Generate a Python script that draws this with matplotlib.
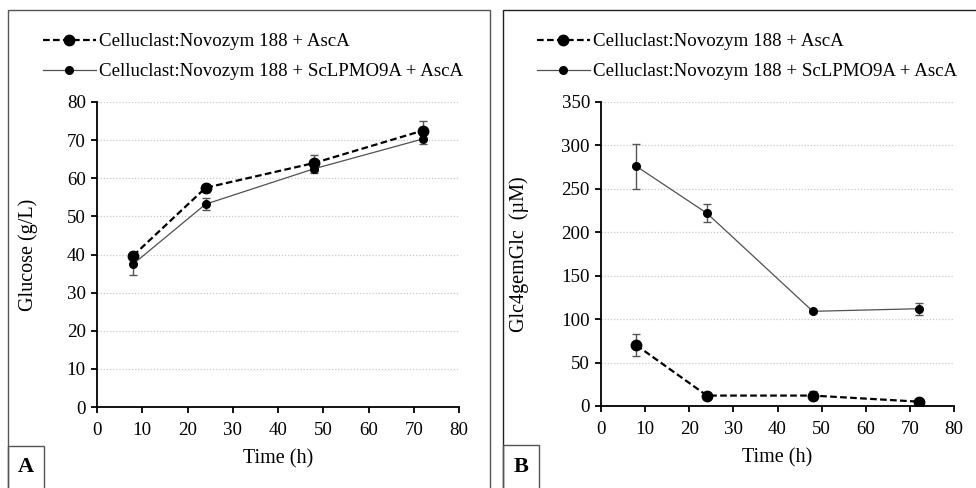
#!/usr/bin/env python3

import matplotlib
matplotlib.use("Agg")
import matplotlib.pyplot as plt
from matplotlib.patches import Rectangle

# sampling times (h)
time_h = [8, 24, 48, 72]

# panel A: glucose (g/L)
glc_asca = [39.7, 57.5, 64.0, 72.5]
glc_asca_err = [1.0, 1.0, 2.0, 2.5]
glc_lpmo = [37.5, 53.2, 62.5, 70.3]
glc_lpmo_err = [2.8, 1.5, 1.0, 1.3]

# panel B: Glc4gemGlc (uM)
gem_asca = [70, 12, 12, 5]
gem_asca_err = [12.5, 2.0, 5.0, 2.0]
gem_lpmo = [276, 222, 109, 112]
gem_lpmo_err = [26, 10, 2, 7]

label_asca = "Celluclast:Novozym 188 + AscA"
label_lpmo = "Celluclast:Novozym 188 + ScLPMO9A + AscA"

plt.rcParams['font.family'] = ['Liberation Serif', 'DejaVu Serif']
plt.rcParams['font.size'] = 13.6

W, H = 976, 488
fig = plt.figure(figsize=(W / 100, H / 100), dpi=100)


def px_box(x0, y0, x1, y1, **kw):
    # rectangle given in pixel coords from top-left
    r = Rectangle((x0 / W, 1 - y1 / H), (x1 - x0) / W, (y1 - y0) / H,
                  transform=fig.transFigure, fill=False, **kw)
    fig.patches.append(r)


def panel(rect, y_a, e_a, y_l, e_l, ymax, ystep, ylabel, ylab_x, tag, box_x, leg_x):
    l, t, r, b = rect
    ax = fig.add_axes([l / W, 1 - b / H, (r - l) / W, (b - t) / H])
    # error bars first, then the lines and markers on top
    ax.errorbar(time_h, y_a, yerr=e_a, fmt='none', ecolor='#555555',
                elinewidth=1.0, capsize=3, capthick=1.0, zorder=2)
    ax.errorbar(time_h, y_l, yerr=e_l, fmt='none', ecolor='#555555',
                elinewidth=1.0, capsize=3, capthick=1.0, zorder=2)
    ax.plot(time_h, y_a, color='black', ls=(0, (3, 1.5)), lw=1.6,
            marker='o', ms=7.5, label=label_asca, zorder=3)
    ax.plot(time_h, y_l, color='#505050', ls='-', lw=0.9,
            marker='o', ms=5.5, mfc='black', mec='black',
            label=label_lpmo, zorder=3)
    ax.set_xlim(0, 80)
    ax.set_ylim(0, ymax)
    ax.set_xticks(range(0, 81, 10))
    ax.set_yticks(range(0, ymax + 1, ystep))
    for v in range(ystep, ymax + 1, ystep):
        ax.axhline(v, color='#c8c8c8', lw=0.9, ls=(0, (1, 1.5)), zorder=0)
    for s in ('top', 'right'):
        ax.spines[s].set_visible(False)
    for s in ('left', 'bottom'):
        ax.spines[s].set_linewidth(1.3)
    ax.tick_params(direction='out', length=4, width=1.3, pad=4)
    ax.tick_params(axis='x', pad=7)
    ax.set_xlabel("Time (h)", fontsize=14.5)
    ax.xaxis.set_label_coords(0.5, -0.14)
    ax.set_ylabel(ylabel, fontsize=14.5)
    ax.yaxis.set_label_coords((ylab_x - l) / (r - l), 0.5)

    ax.legend(loc='upper left', bbox_to_anchor=(leg_x / W, 1 - 33 / H),
              bbox_transform=fig.transFigure, frameon=False,
              handlelength=2.8, handletextpad=0.15, labelspacing=0.68,
              borderaxespad=0, borderpad=0)
    fig.text((box_x + 18) / W, 1 - 467 / H, tag, fontsize=16, fontweight='bold',
             ha='center', va='center')
    return ax


px_box(8, 10, 490, 500, color='#555555', lw=1.0)
px_box(8, 446, 44, 500, color='#555555', lw=1.0)
px_box(503, 10, 990, 500, color='#222222', lw=1.0)
px_box(503, 445, 539, 500, color='#555555', lw=1.0)

panel((97, 102, 459, 407), glc_asca, glc_asca_err, glc_lpmo, glc_lpmo_err,
      80, 10, "Glucose (g/L)", 38, "A", 8, 43)
panel((601, 102, 954, 406), gem_asca, gem_asca_err, gem_lpmo, gem_lpmo_err,
      350, 50, "Glc4gemGlc  (\u00b5M)", 529, "B", 503, 537)

fig.savefig("out.png", dpi=100)
